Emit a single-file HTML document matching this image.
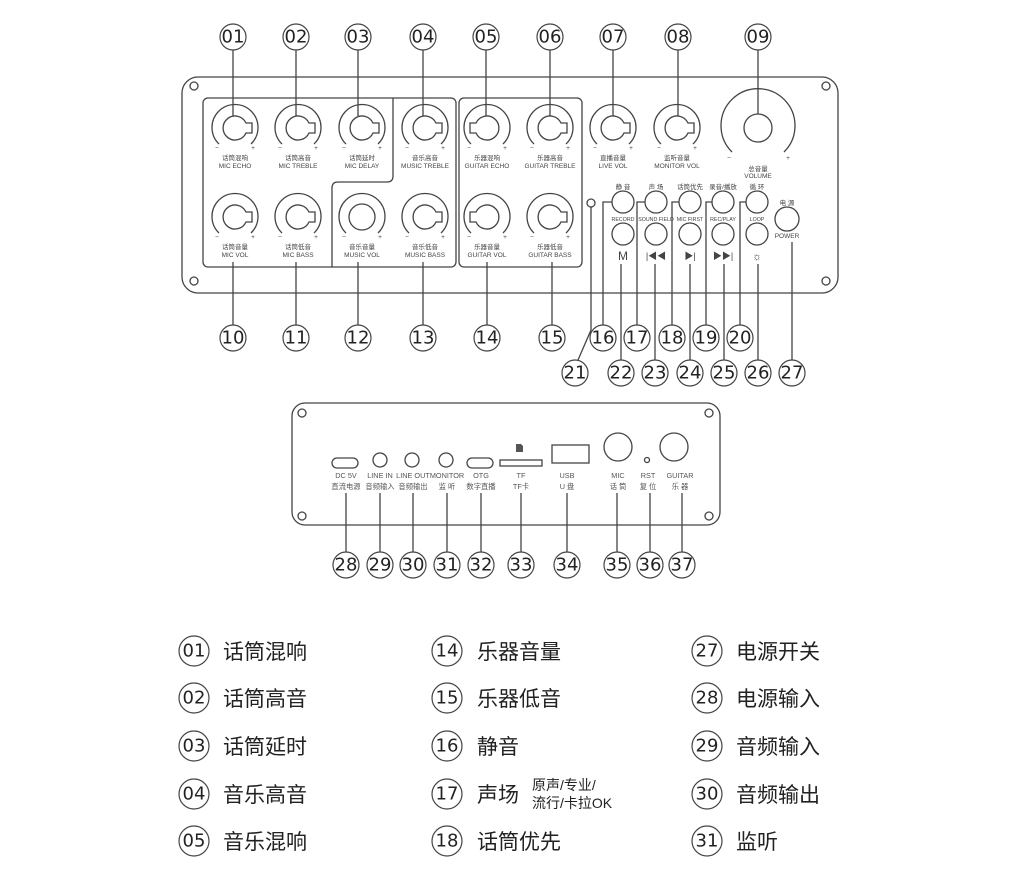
<!DOCTYPE html>
<html><head><meta charset="utf-8"><style>
html,body{margin:0;padding:0;background:#fff;}
svg{display:block;font-family:"Liberation Sans","Noto Sans CJK SC",sans-serif;}
.s{fill:none;stroke:#444;stroke-width:1.3}
.c{fill:#fff;stroke:#444;stroke-width:1.2}
.n{font-size:18px;fill:#222;text-anchor:middle;dominant-baseline:central;font-family:"DejaVu Sans","Liberation Sans",sans-serif}
.t{font-size:6.5px;fill:#444;text-anchor:middle}
.tb{font-size:5.3px;fill:#444;text-anchor:middle}
.t2{font-size:7.3px;fill:#555;text-anchor:middle}
.lg{font-size:21px;fill:#222}
.sm{font-size:14px;fill:#222}
</style></head><body>
<svg width="1025" height="869" viewBox="0 0 1025 869" xmlns="http://www.w3.org/2000/svg">
<defs>
<g id="k"><path class="s" d="M-16,16 A23,23 0 1 1 16,16"/><path class="s" d="M11,-5 L17,-5 L17,5 L11,5 A12,12 0 1 1 11,-5 Z"/><text class="t" x="-18" y="22">−</text><text class="t" x="18" y="22">+</text></g>
<g id="kl"><path class="s" d="M-16,16 A23,23 0 1 1 16,16"/><path class="s" d="M-11,-5 L-17,-5 L-17,5 L-11,5 A12,12 0 1 0 -11,-5 Z"/><text class="t" x="-18" y="22">−</text><text class="t" x="18" y="22">+</text></g>
<g id="kr"><path class="s" d="M-16,16 A23,23 0 1 1 16,16"/><circle class="s" r="13"/><text class="t" x="-18" y="22">−</text><text class="t" x="18" y="22">+</text></g>
</defs>

<rect class="s" x="182" y="77" width="656" height="216" rx="16"/>
<circle class="s" cx="194" cy="86" r="4"/><circle class="s" cx="194" cy="281" r="4"/>
<circle class="s" cx="826" cy="86" r="4"/><circle class="s" cx="826" cy="281" r="4"/>
<rect class="s" x="203" y="98" width="253" height="169" rx="5"/>
<path class="s" d="M393,98 L393,176 Q393,182 387,182 L338,182 Q332,182 332,188 L332,267"/>
<rect class="s" x="459" y="98" width="123" height="169" rx="5"/>

<use href="#k" x="235" y="128"/><use href="#k" x="298" y="128"/><use href="#k" x="362" y="128"/><use href="#k" x="425" y="128"/>
<use href="#kl" x="487" y="128"/><use href="#k" x="550" y="128"/>
<use href="#k" x="613" y="128"/><use href="#k" x="677" y="128"/>
<use href="#k" x="235" y="217"/><use href="#k" x="298" y="217"/><use href="#kr" x="362" y="217"/><use href="#k" x="425" y="217"/>
<use href="#kl" x="487" y="217"/><use href="#k" x="550" y="217"/>
<path class="s" d="M732,152 A37,37 0 1 1 784,152"/><circle class="s" cx="758" cy="128" r="14"/>
<text class="t" x="729" y="160">−</text><text class="t" x="788" y="160">+</text>

<g class="t">
<text x="235" y="160">话筒混响</text><text x="235" y="168">MIC ECHO</text>
<text x="298" y="160">话筒高音</text><text x="298" y="168">MIC TREBLE</text>
<text x="362" y="160">话筒延时</text><text x="362" y="168">MIC  DELAY</text>
<text x="425" y="160">音乐高音</text><text x="425" y="168">MUSIC TREBLE</text>
<text x="487" y="160">乐器混响</text><text x="487" y="168">GUITAR ECHO</text>
<text x="550" y="160">乐器高音</text><text x="550" y="168">GUITAR TREBLE</text>
<text x="613" y="160">直播音量</text><text x="613" y="168">LIVE VOL</text>
<text x="677" y="160">监听音量</text><text x="677" y="168">MONITOR VOL</text>
<text x="758" y="171">总音量</text><text x="758" y="178">VOLUME</text>
<text x="235" y="249">话筒音量</text><text x="235" y="257">MIC VOL</text>
<text x="298" y="249">话筒低音</text><text x="298" y="257">MIC BASS</text>
<text x="362" y="249">音乐音量</text><text x="362" y="257">MUSIC VOL</text>
<text x="425" y="249">音乐低音</text><text x="425" y="257">MUSIC BASS</text>
<text x="487" y="249">乐器音量</text><text x="487" y="257">GUITAR VOL</text>
<text x="550" y="249">乐器低音</text><text x="550" y="257">GUITAR BASS</text>
<text x="623" y="189">静 音</text><text x="656" y="189">声 场</text><text x="690" y="189">话筒优先</text><text x="723" y="189">录音/播放</text><text x="757" y="189">循 环</text>
<text x="787" y="205">电 源</text><text x="787" y="238">POWER</text>
</g>
<g class="tb">
<text x="623" y="221">RECORD</text><text x="656" y="221">SOUND FIELD</text><text x="690" y="221">MIC FIRST</text><text x="723" y="221">REC/PLAY</text><text x="757" y="221">LOOP</text>
</g>
<g class="s">
<circle cx="623" cy="202" r="11"/><circle cx="656" cy="202" r="11"/><circle cx="690" cy="202" r="11"/><circle cx="723" cy="202" r="11"/><circle cx="757" cy="202" r="11"/>
<circle cx="623" cy="234" r="11"/><circle cx="656" cy="234" r="11"/><circle cx="690" cy="234" r="11"/><circle cx="723" cy="234" r="11"/><circle cx="757" cy="234" r="11"/>
<circle cx="787" cy="219" r="12"/>
<circle cx="591" cy="203" r="4"/>
</g>
<text x="623" y="260" style="font-size:12px;fill:#444;text-anchor:middle">M</text>
<text x="656" y="259" style="font-size:9px;fill:#444;text-anchor:middle">|◀◀</text>
<text x="690" y="259" style="font-size:9px;fill:#444;text-anchor:middle">▶|</text>
<text x="723" y="259" style="font-size:9px;fill:#444;text-anchor:middle">▶▶|</text>
<text x="757" y="260" style="font-size:11px;fill:#444;text-anchor:middle">☼</text>

<g class="s">
<path d="M233,50 V116 M296,50 V116 M358,50 V116 M423,50 V116 M486,50 V116 M550,50 V116 M613,50 V116 M678,50 V116 M758,50 V114"/>
<path d="M233,262 V325 M296,262 V325 M358,262 V325 M423,262 V325 M487,262 V325 M552,262 V325"/>
<path d="M612,202 H603 V325 M645,202 H637 V325 M679,202 H672 V325 M712,202 H706 V325 M746,202 H740 V325"/>
<path d="M621,264 V360 M655,264 V360 M690,264 V360 M724,264 V360 M758,264 V360 M792,242 V360"/>
<path d="M591,207 V330 L578,360"/>
</g>
<g>
<circle class="c" cx="233" cy="37" r="13"/><text class="n" x="233" y="37">01</text>
<circle class="c" cx="296" cy="37" r="13"/><text class="n" x="296" y="37">02</text>
<circle class="c" cx="358" cy="37" r="13"/><text class="n" x="358" y="37">03</text>
<circle class="c" cx="423" cy="37" r="13"/><text class="n" x="423" y="37">04</text>
<circle class="c" cx="486" cy="37" r="13"/><text class="n" x="486" y="37">05</text>
<circle class="c" cx="550" cy="37" r="13"/><text class="n" x="550" y="37">06</text>
<circle class="c" cx="613" cy="37" r="13"/><text class="n" x="613" y="37">07</text>
<circle class="c" cx="678" cy="37" r="13"/><text class="n" x="678" y="37">08</text>
<circle class="c" cx="758" cy="37" r="13"/><text class="n" x="758" y="37">09</text>
<circle class="c" cx="233" cy="338" r="13"/><text class="n" x="233" y="338">10</text>
<circle class="c" cx="296" cy="338" r="13"/><text class="n" x="296" y="338">11</text>
<circle class="c" cx="358" cy="338" r="13"/><text class="n" x="358" y="338">12</text>
<circle class="c" cx="423" cy="338" r="13"/><text class="n" x="423" y="338">13</text>
<circle class="c" cx="487" cy="338" r="13"/><text class="n" x="487" y="338">14</text>
<circle class="c" cx="552" cy="338" r="13"/><text class="n" x="552" y="338">15</text>
<circle class="c" cx="603" cy="338" r="13"/><text class="n" x="603" y="338">16</text>
<circle class="c" cx="637" cy="338" r="13"/><text class="n" x="637" y="338">17</text>
<circle class="c" cx="672" cy="338" r="13"/><text class="n" x="672" y="338">18</text>
<circle class="c" cx="706" cy="338" r="13"/><text class="n" x="706" y="338">19</text>
<circle class="c" cx="740" cy="338" r="13"/><text class="n" x="740" y="338">20</text>
<circle class="c" cx="575" cy="373" r="13"/><text class="n" x="575" y="373">21</text>
<circle class="c" cx="621" cy="373" r="13"/><text class="n" x="621" y="373">22</text>
<circle class="c" cx="655" cy="373" r="13"/><text class="n" x="655" y="373">23</text>
<circle class="c" cx="690" cy="373" r="13"/><text class="n" x="690" y="373">24</text>
<circle class="c" cx="724" cy="373" r="13"/><text class="n" x="724" y="373">25</text>
<circle class="c" cx="758" cy="373" r="13"/><text class="n" x="758" y="373">26</text>
<circle class="c" cx="792" cy="373" r="13"/><text class="n" x="792" y="373">27</text>
</g>

<rect class="s" x="292" y="403" width="428" height="122" rx="13"/>
<g class="s">
<circle cx="302" cy="413" r="4"/><circle cx="302" cy="516" r="4"/><circle cx="709" cy="413" r="4"/><circle cx="709" cy="516" r="4"/>
<rect x="332" y="458" width="26" height="10" rx="5"/>
<circle cx="380" cy="460" r="7"/><circle cx="412" cy="460" r="7"/><circle cx="446" cy="460" r="7"/>
<rect x="467" y="458" width="26" height="10" rx="5"/>
<rect x="500" y="460" width="42" height="6"/>
<rect x="552" y="445" width="37" height="18"/>
<circle cx="618" cy="447" r="14"/><circle cx="647" cy="460" r="2.5"/><circle cx="674" cy="447" r="14"/>
<path d="M346,493 V552 M380,493 V552 M413,493 V552 M447,493 V552 M481,493 V552 M521,493 V552 M567,493 V552 M617,493 V552 M650,493 V552 M682,493 V552"/>
</g>
<path d="M516,444 h5 l2,2 v6 h-7 z" fill="#555"/>
<g class="t2">
<text x="346" y="478">DC 5V</text><text x="346" y="489">直流电源</text>
<text x="380" y="478">LINE IN</text><text x="380" y="489">音频输入</text>
<text x="413" y="478">LINE OUT</text><text x="413" y="489">音频输出</text>
<text x="447" y="478">MONITOR</text><text x="447" y="489">监 听</text>
<text x="481" y="478">OTG</text><text x="481" y="489">数字直播</text>
<text x="521" y="478">TF</text><text x="521" y="489">TF卡</text>
<text x="567" y="478">USB</text><text x="567" y="489">U 盘</text>
<text x="618" y="478">MIC</text><text x="618" y="489">话 筒</text>
<text x="648" y="478">RST</text><text x="648" y="489">复 位</text>
<text x="680" y="478">GUITAR</text><text x="680" y="489">乐 器</text>
</g>
<g>
<circle class="c" cx="346" cy="565" r="13"/><text class="n" x="346" y="565">28</text>
<circle class="c" cx="380" cy="565" r="13"/><text class="n" x="380" y="565">29</text>
<circle class="c" cx="413" cy="565" r="13"/><text class="n" x="413" y="565">30</text>
<circle class="c" cx="447" cy="565" r="13"/><text class="n" x="447" y="565">31</text>
<circle class="c" cx="481" cy="565" r="13"/><text class="n" x="481" y="565">32</text>
<circle class="c" cx="521" cy="565" r="13"/><text class="n" x="521" y="565">33</text>
<circle class="c" cx="567" cy="565" r="13"/><text class="n" x="567" y="565">34</text>
<circle class="c" cx="617" cy="565" r="13"/><text class="n" x="617" y="565">35</text>
<circle class="c" cx="650" cy="565" r="13"/><text class="n" x="650" y="565">36</text>
<circle class="c" cx="682" cy="565" r="13"/><text class="n" x="682" y="565">37</text>
</g>

<g>
<circle class="c" cx="194" cy="651" r="15"/><text class="n" x="194" y="651">01</text><text class="lg" x="223" y="659">话筒混响</text>
<circle class="c" cx="194" cy="698" r="15"/><text class="n" x="194" y="698">02</text><text class="lg" x="223" y="706">话筒高音</text>
<circle class="c" cx="194" cy="746" r="15"/><text class="n" x="194" y="746">03</text><text class="lg" x="223" y="754">话筒延时</text>
<circle class="c" cx="194" cy="794" r="15"/><text class="n" x="194" y="794">04</text><text class="lg" x="223" y="802">音乐高音</text>
<circle class="c" cx="194" cy="841" r="15"/><text class="n" x="194" y="841">05</text><text class="lg" x="223" y="849">音乐混响</text>
<circle class="c" cx="447" cy="651" r="15"/><text class="n" x="447" y="651">14</text><text class="lg" x="477" y="659">乐器音量</text>
<circle class="c" cx="447" cy="698" r="15"/><text class="n" x="447" y="698">15</text><text class="lg" x="477" y="706">乐器低音</text>
<circle class="c" cx="447" cy="746" r="15"/><text class="n" x="447" y="746">16</text><text class="lg" x="477" y="754">静音</text>
<circle class="c" cx="447" cy="794" r="15"/><text class="n" x="447" y="794">17</text><text class="lg" x="477" y="802">声场</text>
<text class="sm" x="532" y="790">原声/专业/</text><text class="sm" x="532" y="808">流行/卡拉OK</text>
<circle class="c" cx="447" cy="841" r="15"/><text class="n" x="447" y="841">18</text><text class="lg" x="477" y="849">话筒优先</text>
<circle class="c" cx="707" cy="651" r="15"/><text class="n" x="707" y="651">27</text><text class="lg" x="736" y="659">电源开关</text>
<circle class="c" cx="707" cy="698" r="15"/><text class="n" x="707" y="698">28</text><text class="lg" x="736" y="706">电源输入</text>
<circle class="c" cx="707" cy="746" r="15"/><text class="n" x="707" y="746">29</text><text class="lg" x="736" y="754">音频输入</text>
<circle class="c" cx="707" cy="794" r="15"/><text class="n" x="707" y="794">30</text><text class="lg" x="736" y="802">音频输出</text>
<circle class="c" cx="707" cy="841" r="15"/><text class="n" x="707" y="841">31</text><text class="lg" x="736" y="849">监听</text>
</g>
</svg>
</body></html>
